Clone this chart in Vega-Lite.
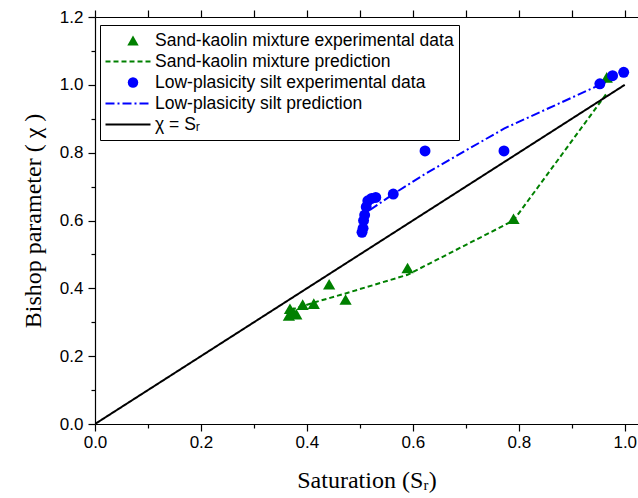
{
  "$schema": "https://vega.github.io/schema/vega-lite/v6.json",
  "autosize": "none",
  "width": 543,
  "height": 407,
  "padding": {"left": 95, "top": 17, "right": 0, "bottom": 74},
  "background": "white",
  "config": {
    "view": {"stroke": null},
    "axis": {"grid": false, "domainColor": "#000", "domainWidth": 1.2, "tickColor": "#000", "tickWidth": 1.2, "labelColor": "#000", "titleColor": "#000", "labelFont": "Liberation Sans", "labelFontSize": 17, "titleFont": "Liberation Serif", "titleFontSize": 24, "titleFontWeight": "normal"}
  },
  "data": {"values": [
    {"series": "Sand-kaolin mixture experimental data", "S": 0.366, "chi": 0.320},
    {"series": "Sand-kaolin mixture experimental data", "S": 0.374, "chi": 0.329},
    {"series": "Sand-kaolin mixture experimental data", "S": 0.368, "chi": 0.340},
    {"series": "Sand-kaolin mixture experimental data", "S": 0.380, "chi": 0.324},
    {"series": "Sand-kaolin mixture experimental data", "S": 0.392, "chi": 0.352},
    {"series": "Sand-kaolin mixture experimental data", "S": 0.413, "chi": 0.355},
    {"series": "Sand-kaolin mixture experimental data", "S": 0.442, "chi": 0.412},
    {"series": "Sand-kaolin mixture experimental data", "S": 0.473, "chi": 0.367},
    {"series": "Sand-kaolin mixture experimental data", "S": 0.590, "chi": 0.460},
    {"series": "Sand-kaolin mixture experimental data", "S": 0.790, "chi": 0.605},
    {"series": "Sand-kaolin mixture experimental data", "S": 0.966, "chi": 1.022},
    {"series": "Sand-kaolin mixture prediction", "S": 0.370, "chi": 0.337},
    {"series": "Sand-kaolin mixture prediction", "S": 0.413, "chi": 0.358},
    {"series": "Sand-kaolin mixture prediction", "S": 0.473, "chi": 0.385},
    {"series": "Sand-kaolin mixture prediction", "S": 0.590, "chi": 0.440},
    {"series": "Sand-kaolin mixture prediction", "S": 0.790, "chi": 0.600},
    {"series": "Sand-kaolin mixture prediction", "S": 0.966, "chi": 0.975},
    {"series": "Low-plasicity silt experimental data", "S": 0.504, "chi": 0.565},
    {"series": "Low-plasicity silt experimental data", "S": 0.506, "chi": 0.577},
    {"series": "Low-plasicity silt experimental data", "S": 0.507, "chi": 0.600},
    {"series": "Low-plasicity silt experimental data", "S": 0.509, "chi": 0.616},
    {"series": "Low-plasicity silt experimental data", "S": 0.512, "chi": 0.640},
    {"series": "Low-plasicity silt experimental data", "S": 0.515, "chi": 0.658},
    {"series": "Low-plasicity silt experimental data", "S": 0.522, "chi": 0.665},
    {"series": "Low-plasicity silt experimental data", "S": 0.530, "chi": 0.668},
    {"series": "Low-plasicity silt experimental data", "S": 0.563, "chi": 0.678},
    {"series": "Low-plasicity silt experimental data", "S": 0.623, "chi": 0.805},
    {"series": "Low-plasicity silt experimental data", "S": 0.772, "chi": 0.805},
    {"series": "Low-plasicity silt experimental data", "S": 0.953, "chi": 1.003},
    {"series": "Low-plasicity silt experimental data", "S": 0.977, "chi": 1.027},
    {"series": "Low-plasicity silt experimental data", "S": 0.998, "chi": 1.037},
    {"series": "Low-plasicity silt prediction", "S": 0.519, "chi": 0.631},
    {"series": "Low-plasicity silt prediction", "S": 0.563, "chi": 0.678},
    {"series": "Low-plasicity silt prediction", "S": 0.623, "chi": 0.737},
    {"series": "Low-plasicity silt prediction", "S": 0.772, "chi": 0.871},
    {"series": "Low-plasicity silt prediction", "S": 0.953, "chi": 1.000},
    {"series": "Low-plasicity silt prediction", "S": 0.970, "chi": 1.012},
    {"series": "χ = Sᵣ", "S": 0.0, "chi": 0.0},
    {"series": "χ = Sᵣ", "S": 1.0, "chi": 1.0}
  ]},
  "resolve": {"axis": {"x": "independent"}},
  "layer": [
    {
      "transform": [{"filter": "indexof(['Sand-kaolin mixture prediction','Low-plasicity silt prediction','χ = Sᵣ'], datum.series) >= 0"}],
      "mark": {"type": "line", "strokeWidth": 2, "clip": true},
      "encoding": {
        "x": {"field": "S", "type": "quantitative", "scale": {"domain": [0, 1.025], "nice": false, "zero": false},
          "axis": {"orient": "bottom", "title": "Saturation (Sᵣ)", "values": [0, 0.1, 0.2, 0.3, 0.4, 0.5, 0.6, 0.7, 0.8, 0.9, 1.0],
            "labelExpr": "round(datum.value*10)%2==0 ? format(datum.value,'.1f') : ''",
            "tickSize": {"condition": {"test": "round(datum.value*10)%2==1", "value": 4}, "value": 7},
            "labelPadding": 3, "titlePadding": 18, "labelFlush": false, "labelOverlap": false}},
        "y": {"field": "chi", "type": "quantitative", "scale": {"domain": [0, 1.2], "nice": false},
          "axis": {"orient": "left", "title": "Bishop parameter ( χ )", "values": [0, 0.1, 0.2, 0.3, 0.4, 0.5, 0.6, 0.7, 0.8, 0.9, 1.0, 1.1, 1.2],
            "labelExpr": "round(datum.value*10)%2==0 ? format(datum.value,'.1f') : ''",
            "tickSize": {"condition": {"test": "round(datum.value*10)%2==1", "value": 4}, "value": 7},
            "labelPadding": 5, "titlePadding": 14, "labelFlush": false, "labelOverlap": false}},
        "color": {"field": "series", "type": "nominal",
          "scale": {"domain": ["Sand-kaolin mixture experimental data", "Sand-kaolin mixture prediction", "Low-plasicity silt experimental data", "Low-plasicity silt prediction", "χ = Sᵣ"],
            "range": ["#008000", "#008000", "#0000ff", "#0000ff", "#000000"]},
          "legend": {"orient": "none", "legendX": 5, "legendY": 8, "title": null,
            "labelFont": "Liberation Sans", "labelFontSize": 17.5, "labelColor": "#000", "labelLimit": 400, "labelOffset": 4,
            "clipHeight": 21, "rowPadding": 0, "padding": 5,
            "strokeColor": "#000", "fillColor": "#fff",
            "encode": {
              "symbols": {"update": {
                "x": {"signal": "(datum.value == 'Sand-kaolin mixture experimental data' || datum.value == 'Low-plasicity silt experimental data') ? 28 : 23"},
                "size": {"signal": "datum.value == 'Sand-kaolin mixture experimental data' ? 130 : datum.value == 'Low-plasicity silt experimental data' ? 110 : 2025"},
                "fill": {"scale": "color", "field": "value"},
                "stroke": {"scale": "color", "field": "value"},
                "strokeWidth": {"signal": "(datum.value == 'Sand-kaolin mixture experimental data' || datum.value == 'Low-plasicity silt experimental data') ? 0 : 1.8"}
              }},
              "labels": {"update": {"x": {"value": 50}}}
            }}},
        "strokeDash": {"field": "series", "type": "nominal",
          "scale": {"domain": ["Sand-kaolin mixture experimental data", "Sand-kaolin mixture prediction", "Low-plasicity silt experimental data", "Low-plasicity silt prediction", "χ = Sᵣ"],
            "range": [[1, 0], [5, 3], [1, 0], [9, 3, 2, 3], [1, 0]]}},
        "strokeWidth": {"condition": {"test": "datum.series == 'χ = Sᵣ'", "value": 1.5}, "value": 2}
      }
    },
    {
      "transform": [{"filter": "indexof(['Sand-kaolin mixture experimental data','Low-plasicity silt experimental data'], datum.series) >= 0"}],
      "mark": {"type": "point", "filled": true, "opacity": 1},
      "encoding": {
        "x": {"field": "S", "type": "quantitative",
          "axis": {"orient": "top", "title": null, "labels": false, "domain": true, "values": [0, 0.1, 0.2, 0.3, 0.4, 0.5, 0.6, 0.7, 0.8, 0.9, 1.0],
            "tickSize": 7,
            "encode": {"ticks": {"update": {"y2": {"signal": "round(datum.value*10)%2==1 ? 4 : 7"}}}}}},
        "y": {"field": "chi", "type": "quantitative",
          "axis": {"orient": "left", "title": "Bishop parameter ( χ )", "values": [0, 0.1, 0.2, 0.3, 0.4, 0.5, 0.6, 0.7, 0.8, 0.9, 1.0, 1.1, 1.2],
            "labelExpr": "round(datum.value*10)%2==0 ? format(datum.value,'.1f') : ''",
            "tickSize": {"condition": {"test": "round(datum.value*10)%2==1", "value": 4}, "value": 7},
            "labelPadding": 5, "titlePadding": 14, "labelFlush": false, "labelOverlap": false}},
        "color": {"field": "series", "type": "nominal"},
        "size": {"condition": {"test": "datum.series == 'Sand-kaolin mixture experimental data'", "value": 150}, "value": 120},
        "shape": {"field": "series", "type": "nominal",
          "scale": {"domain": ["Sand-kaolin mixture experimental data", "Sand-kaolin mixture prediction", "Low-plasicity silt experimental data", "Low-plasicity silt prediction", "χ = Sᵣ"],
            "range": ["triangle-up", "stroke", "circle", "stroke", "stroke"]}}
      }
    }
  ]
}
